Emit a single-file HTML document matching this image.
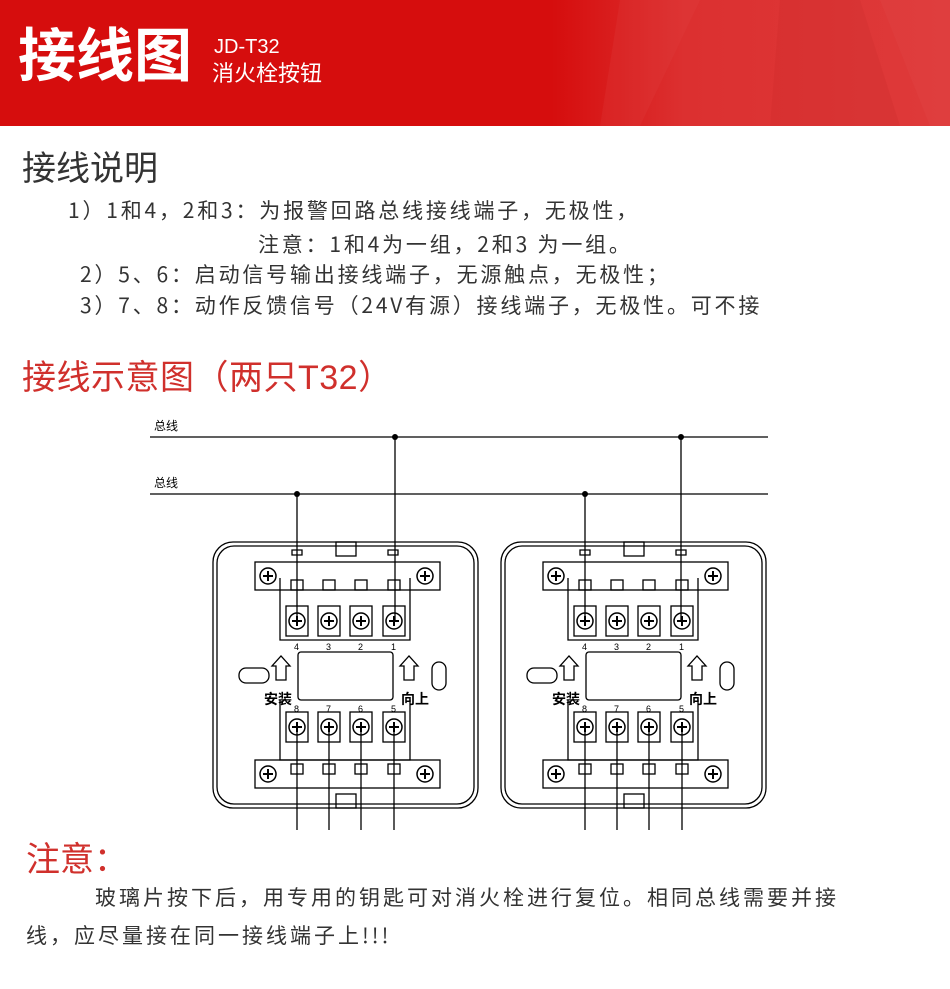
<!DOCTYPE html>
<html><head><meta charset="utf-8"><style>
body{margin:0;width:950px;height:989px;background:#fff;position:relative;overflow:hidden;font-family:"Liberation Sans","Noto Sans CJK SC",sans-serif;}
.t{position:absolute;white-space:nowrap;line-height:1;}
.b{font-family:"Noto Sans CJK SC",sans-serif;font-size:21px;color:#333;letter-spacing:2.8px;}
</style></head><body>
<div style="position:absolute;left:0;top:0;width:950px;height:126px;background:linear-gradient(90deg,#d60d0d 0%,#d60d0d 58%,#dc3030 72%,#de3a3a 100%);"></div>
<svg style="position:absolute;left:0;top:0" width="950" height="126">
<polygon points="620,0 700,0 640,126 600,126" fill="#e34848" opacity=".2"/>
<polygon points="780,0 860,0 900,126 770,126" fill="#c82a2a" opacity=".2"/>
<polygon points="880,0 950,0 950,126 930,126" fill="#e55050" opacity=".2"/>
</svg>
<div class="t" style="left:18px;top:28px;font-size:58px;font-weight:bold;color:#fff;">接线图</div>
<div class="t" style="left:214px;top:37px;font-size:20px;color:#fff;">JD-T32</div>
<div class="t" style="left:212px;top:63px;font-size:22px;color:#fff;">消火栓按钮</div>

<div class="t" style="left:22px;top:152px;font-size:34px;color:#333;">接线说明</div>
<div class="t b" style="left:68px;top:200px;">1）1和4，2和3：为报警回路总线接线端子，无极性，</div>
<div class="t b" style="left:258px;top:234px;">注意：1和4为一组，2和3 为一组。</div>
<div class="t b" style="left:80px;top:264px;">2）5、6：启动信号输出接线端子，无源触点，无极性；</div>
<div class="t b" style="left:80px;top:295px;">3）7、8：动作反馈信号（24V有源）接线端子，无极性。可不接</div>
<div class="t" style="left:22px;top:361px;font-size:34px;color:#d0302c;letter-spacing:0.5px;">接线示意图（两只T32）</div>

<svg style="position:absolute;left:0;top:0" width="950" height="989">
<defs>
<g id="scr"><circle r="8" fill="#fff" stroke="#000" stroke-width="1.5"/><path d="M-5,0H5M0,-5V5" stroke="#000" stroke-width="2"/></g>
<g id="dev" fill="none" stroke="#000" stroke-width="1.3">
<rect x="213" y="542" width="265" height="266" rx="20"/>
<rect x="217" y="546" width="257" height="258" rx="17"/>
<rect x="336" y="542" width="20" height="14"/>
<path d="M292,550h10v5h-10zM388,550h10v5h-10z"/>
<rect x="255" y="562" width="185" height="28"/>
<use href="#scr" x="268" y="576"/><use href="#scr" x="425" y="576"/>
<path d="M280,578V640H410V578"/>
<rect x="291" y="580" width="12" height="10"/><rect x="323" y="580" width="12" height="10"/><rect x="355" y="580" width="12" height="10"/><rect x="388" y="580" width="12" height="10"/>
<rect x="286" y="606" width="22" height="30"/><rect x="318" y="606" width="22" height="30"/><rect x="350" y="606" width="22" height="30"/><rect x="383" y="606" width="22" height="30"/>
<use href="#scr" x="297" y="621"/><use href="#scr" x="329" y="621"/><use href="#scr" x="361" y="621"/><use href="#scr" x="394" y="621"/>
<rect x="298" y="652" width="95" height="48" rx="3"/>
<path d="M276,680v-14h-4l9,-10l9,10h-4v14z"/><path d="M404,680v-14h-4l9,-10l9,10h-4v14z"/>
<rect x="239" y="668" width="30" height="15" rx="7"/>
<rect x="432" y="662" width="14" height="28" rx="7"/>
<path d="M280,700V760H410V700"/>
<rect x="286" y="712" width="22" height="30"/><rect x="318" y="712" width="22" height="30"/><rect x="350" y="712" width="22" height="30"/><rect x="383" y="712" width="22" height="30"/>
<use href="#scr" x="297" y="727"/><use href="#scr" x="329" y="727"/><use href="#scr" x="361" y="727"/><use href="#scr" x="394" y="727"/>
<rect x="255" y="760" width="185" height="28"/>
<use href="#scr" x="268" y="774"/><use href="#scr" x="425" y="774"/>
<rect x="291" y="764" width="12" height="10"/><rect x="323" y="764" width="12" height="10"/><rect x="355" y="764" width="12" height="10"/><rect x="388" y="764" width="12" height="10"/>
<rect x="336" y="794" width="20" height="14"/>
<path d="M297,727V830M329,727V830M361,727V830M394,727V830"/>
<g stroke="none" fill="#000" font-size="9" font-family="Liberation Sans">
<text x="294" y="650">4</text><text x="326" y="650">3</text><text x="358" y="650">2</text><text x="391" y="650">1</text>
<text x="294" y="712">8</text><text x="326" y="712">7</text><text x="358" y="712">6</text><text x="391" y="712">5</text>
<text x="264" y="704" font-size="14" font-weight="bold" font-family="Noto Sans CJK SC">安装</text>
<text x="401" y="704" font-size="14" font-weight="bold" font-family="Noto Sans CJK SC">向上</text>
</g>
</g>
</defs>
<use href="#dev"/>
<use href="#dev" x="288"/>
<g stroke="#000" stroke-width="1.3">
<path d="M150,437H768M150,494H768"/>
<path d="M395,437V621M297,494V621M585,494V621M681,437V621"/>
</g>
<g fill="#000"><circle cx="395" cy="437" r="3"/><circle cx="297" cy="494" r="3"/><circle cx="585" cy="494" r="3"/><circle cx="681" cy="437" r="3"/></g>
<text x="154" y="430" font-size="12" font-family="Noto Sans CJK SC">总线</text>
<text x="154" y="487" font-size="12" font-family="Noto Sans CJK SC">总线</text>
</svg>

<div class="t" style="left:26px;top:843px;font-size:34px;color:#d0302c;">注意：</div>
<div class="t b" style="left:95px;top:887px;letter-spacing:3px;">玻璃片按下后，用专用的钥匙可对消火栓进行复位。相同总线需要并接</div>
<div class="t b" style="left:26px;top:925px;letter-spacing:3px;">线，应尽量接在同一接线端子上!!!</div>
</body></html>
